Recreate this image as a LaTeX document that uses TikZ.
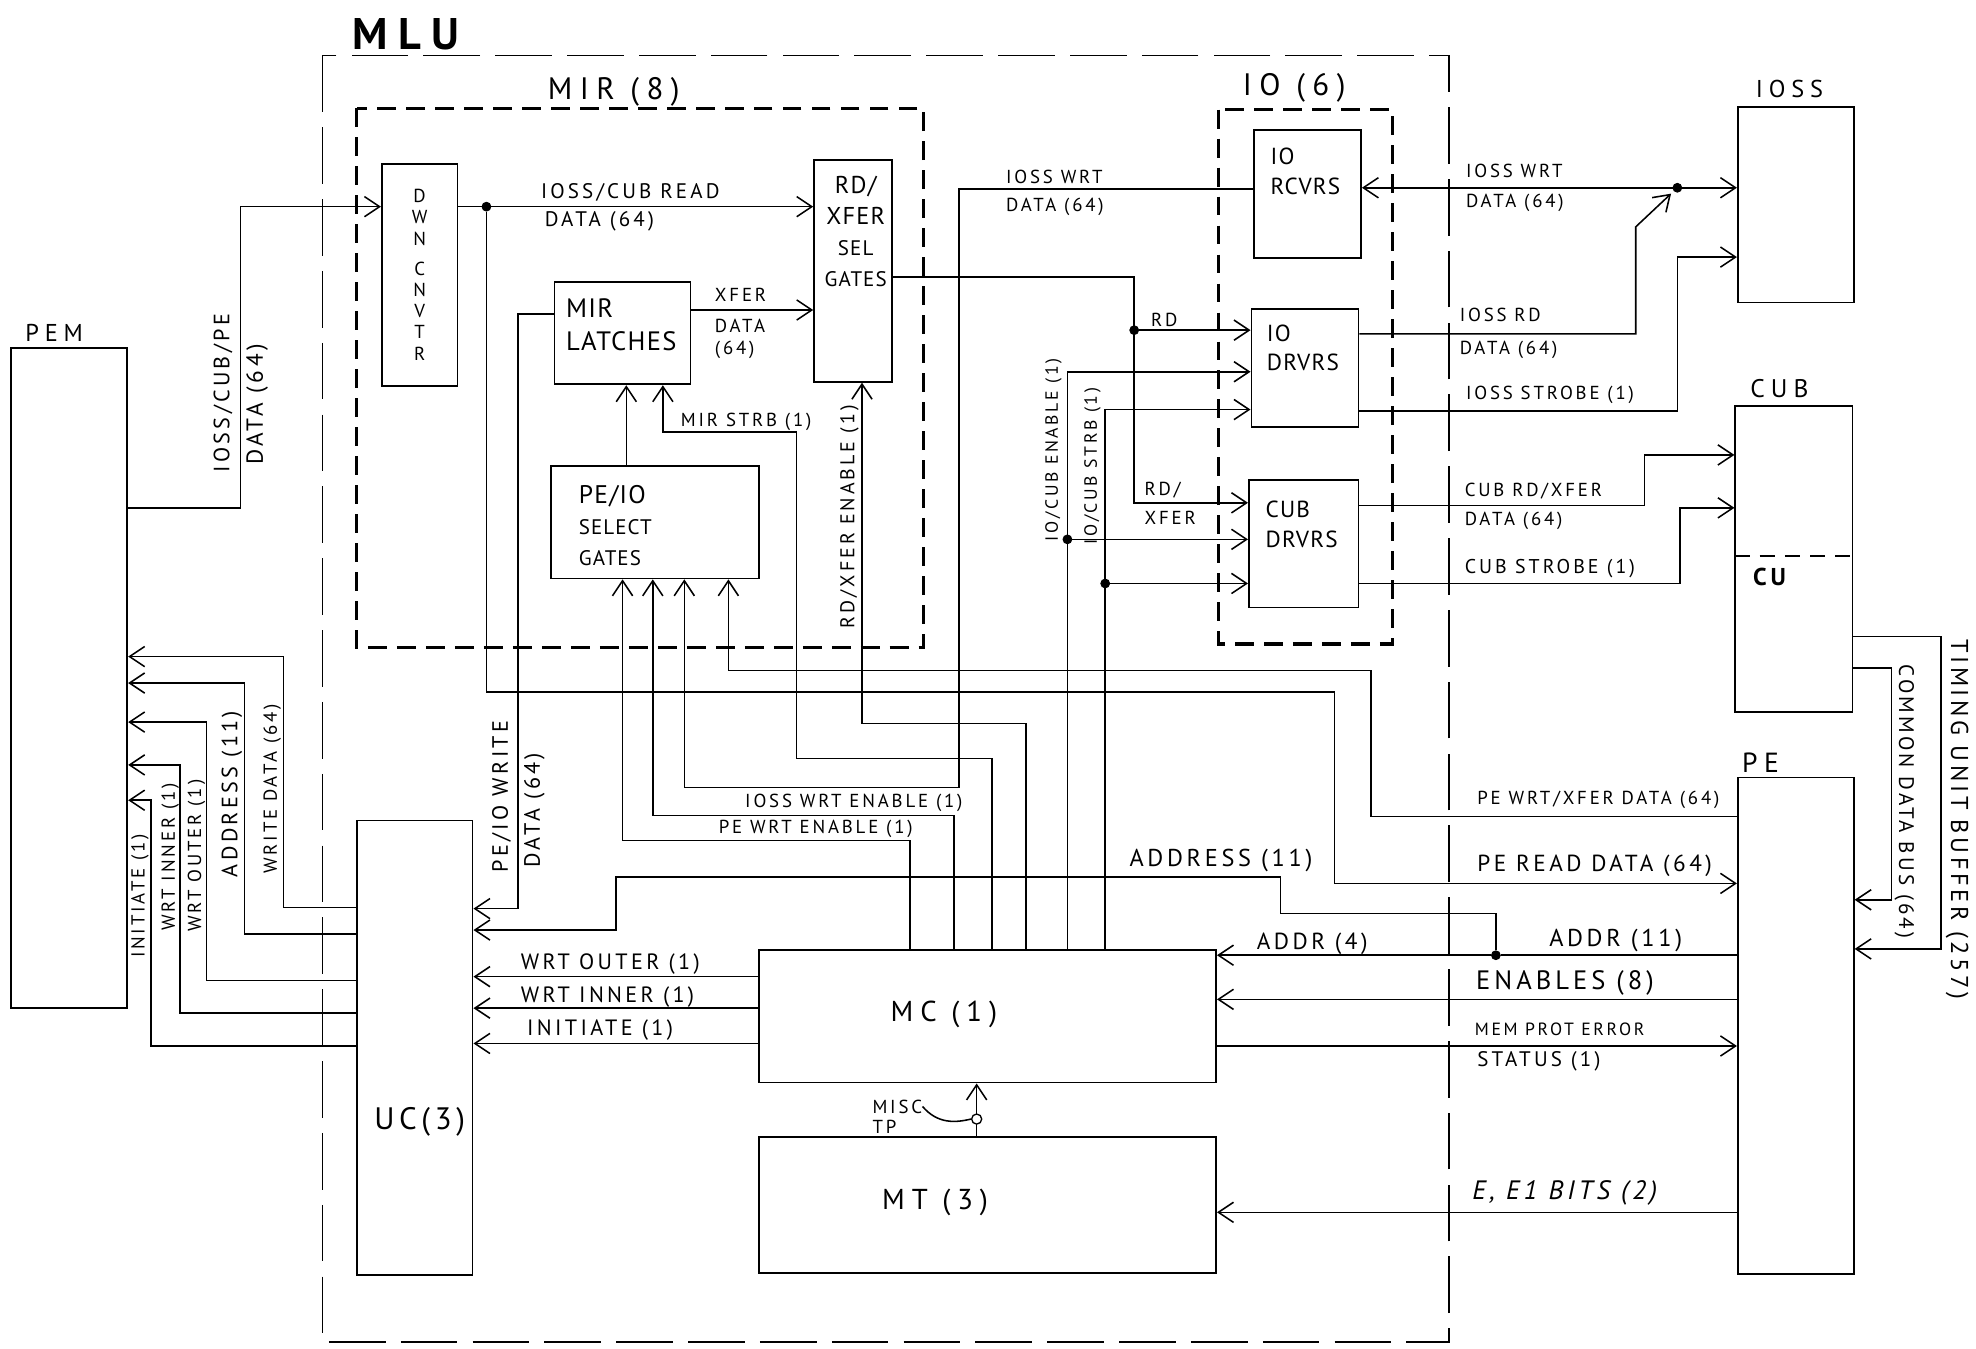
\documentclass[tikz,border=0pt]{standalone}
\usepackage{fontspec}
\setmainfont{PT Sans}
\newfontfamily\hand{PT Sans}[LetterSpace=15]
\newfontfamily\handw{PT Sans}[LetterSpace=24]
\newfontfamily\handn{PT Sans}[LetterSpace=5]
\usetikzlibrary{positioning,arrows.meta}

\begin{document}
\begin{tikzpicture}[
  x=0.2mm, y=-0.2mm,
  sz/.style={font=\hand\fontsize{#1}{#1}\selectfont},
  wsz/.style={font=\handw\fontsize{#1}{#1}\selectfont},
  wire/.style={line width=0.7pt},
  sig/.style={wire, -{Straight Barb[length=2.4mm,width=3.2mm]}},
  blk/.style={draw, line width=0.8pt, inner sep=0pt},
  grp/.style={draw, line width=1.5pt, dash pattern=on 3mm off 1.6mm},
  unit/.style={draw, line width=0.7pt, dash pattern=on 9mm off 2.4mm},
  junc/.style={circle, draw, fill, inner sep=0pt, minimum size=1.4mm},
  lbl/.style={inner sep=0pt, anchor=west},
  rlbl/.style={inner sep=0pt, rotate=90},
  dlbl/.style={inner sep=0pt, rotate=-90},
  btxt/.style={inner sep=0pt, align=left}
]
\useasboundingbox (0,0) rectangle (1568,1070);

% group outlines
\draw[unit] (256,44) rectangle (1150,1065);
\draw[grp] (283,86) rectangle (733,514);
\draw[grp] (967,87) rectangle (1105,511);
\node[wsz=20] (mlut) at (322,27) {\bfseries MLU};
\node[wsz=14] (mirt) at (487,73) {MIR (8)};
\node[wsz=14] (iot) at (1027,70) {IO (6)};

% blocks
\node[blk, minimum width=18.4mm, minimum height=104.8mm] (pem) at (55,538) {};
\node[blk, minimum width=12mm, minimum height=35.2mm, align=center,
  font=\fontsize{8.5}{9.6}\selectfont] (dwn) at (333,218) {D\\W\\N\\[4pt]C\\N\\V\\T\\R};
\node[blk, minimum width=12.4mm, minimum height=35.2mm] (sel) at (677,215) {};
\node[blk, minimum width=21.6mm, minimum height=16.2mm] (mirl) at (494,264.5) {};
\node[blk, minimum width=33mm, minimum height=17.8mm] (pesel) at (519.5,414.5) {};
\node[blk, minimum width=17mm, minimum height=20.4mm] (iorcv) at (1037.5,154) {};
\node[blk, minimum width=17mm, minimum height=18.8mm] (iodrv) at (1035.5,292) {};
\node[blk, minimum width=17.4mm, minimum height=20.2mm] (cubdrv) at (1034.5,431.5) {};
\node[blk, minimum width=18.4mm, minimum height=31mm] (ioss) at (1425,162.5) {};
\node[blk, minimum width=18.6mm, minimum height=48.6mm] (cub) at (1423.5,443.5) {};
\node[blk, minimum width=18.4mm, minimum height=78.8mm] (pe) at (1425,814) {};
\node[blk, minimum width=18.4mm, minimum height=72.2mm] (uc) at (329,831.5) {};
\node[blk, minimum width=72.6mm, minimum height=21mm] (mc) at (783.5,806.5) {};
\node[blk, minimum width=72.6mm, minimum height=21.6mm] (mt) at (783.5,956) {};

% block texts
\node[btxt, align=center, font=\handn\fontsize{11}{14}\selectfont] (selt) at (679,184)
  {RD/\\XFER\\{\fontsize{9.5}{14}\selectfont SEL}\\{\fontsize{9.5}{14}\selectfont GATES}};
\node[btxt, font=\handn\fontsize{12}{15}\selectfont] (mirlt) at (493,258) {MIR\\LATCHES};
\node[btxt, anchor=west, font=\handn\fontsize{11.5}{14}\selectfont] (peselt) at (459,417)
  {PE/IO\\{\fontsize{9.5}{13}\selectfont SELECT}\\{\fontsize{9.5}{13}\selectfont GATES}};
\node[btxt, anchor=west, font=\handn\fontsize{10.5}{13.5}\selectfont] (iorcvt) at (1008,136) {IO\\RCVRS};
\node[btxt, anchor=west, font=\handn\fontsize{10.5}{13.5}\selectfont] (iodrvt) at (1005,276) {IO\\DRVRS};
\node[btxt, anchor=west, font=\handn\fontsize{10.5}{13.5}\selectfont] (cubdrvt) at (1004,416) {CUB\\DRVRS};
\node[wsz=13] (mct) at (749,805) {MC (1)};
\node[wsz=13] (mtt) at (742,954) {MT (3)};
\node[sz=14] (uct) at (333,890) {UC(3)};
\node[wsz=11] (pemt) at (43,264) {PEM};
\node[wsz=11] (iosst) at (1420,71) {IOSS};
\node[wsz=11.5] (cubt) at (1412,308) {CUB};
\node[wsz=12.5] (pet) at (1397,605) {PE};
\node[sz=11, anchor=west] (cut) at (1385,458) {\bfseries CU};
\draw[wire, dash pattern=on 2.4mm off 1.6mm] (cub.west |- 0,441) -- (cub.east |- 0,441);

% junctions
\node[junc] (jrd) at (386,164) {};
\node[junc] (jsel) at (900,262) {};
\node[junc] (jen) at (847,428) {};
\node[junc] (jst) at (877,463) {};
\node[junc] (jio) at (1331,149) {};
\node[junc] (jad) at (1187,758) {};

% PEM and down converter
\draw[sig] (pem.east |- 0,403) -| (191,164) -- (dwn.west |- 0,164);
\node[rlbl, sz=10] (l01) at (177,312) {IOSS/CUB/PE};
\node[rlbl, sz=10.5] (l02) at (204,321) {DATA (64)};
\draw[sig] (dwn.east |- 0,164) -- (sel.west |- 0,164);
\node[lbl, sz=9.5] (l03) at (429,153) {IOSS/CUB READ};
\node[lbl, sz=9.5] (l04) at (432,176) {DATA (64)};
\draw[sig] (jrd) |- (1059,549) |- (pe.west |- 0,701);
\node[lbl, sz=10.5] (l05) at (1172,687) {PE READ DATA (64)};
\draw[sig] (pe.west |- 0,648) -| (1088,532) -| (pesel.south -| 578,0);
\node[lbl, sz=8.5] (l06) at (1172,635) {PE WRT/XFER DATA (64)};

% inside MIR
\draw[sig] (pesel.north -| 497,0) -- (mirl.south -| 497,0);
\draw[sig] (mirl.east |- 0,246) -- (sel.west |- 0,246);
\node[lbl, sz=8.5] (l07) at (567,234) {XFER};
\node[lbl, sz=8.5] (l08) at (567,259) {DATA};
\node[lbl, sz=8.5] (l09) at (567,278) {(64)};
\draw[sig] (mirl.west |- 0,249) -| (411,721) -- (uc.east |- 0,721);
\node[rlbl, sz=10] (l10) at (398,632) {PE/IO WRITE};
\node[rlbl, sz=10] (l11) at (424,643) {DATA (64)};

% UC to PEM
\draw[sig] (uc.west |- 0,720) -| (225,521) -- (pem.east |- 0,521);
\draw[sig] (uc.west |- 0,741) -| (194,542) -- (pem.east |- 0,542);
\draw[sig] (uc.west |- 0,778) -| (164,573) -- (pem.east |- 0,573);
\draw[sig] (uc.west |- 0,804) -| (143,607) -- (pem.east |- 0,607);
\draw[sig] (uc.west |- 0,830) -| (120,635) -- (pem.east |- 0,635);
\node[rlbl, sz=8.5] (l12) at (216,626) {WRITE DATA (64)};
\node[rlbl, sz=10] (l13) at (184,630) {ADDRESS (11)};
\node[rlbl, sz=8.5] (l14) at (156,679) {WRT OUTER (1)};
\node[rlbl, sz=8.5] (l15) at (135,680) {WRT INNER (1)};
\node[rlbl, sz=8.5] (l16) at (111,711) {INITIATE (1)};

% MC to UC
\draw[sig] (mc.west |- 0,775) -- (uc.east |- 0,775);
\draw[sig] (mc.west |- 0,800) -- (uc.east |- 0,800);
\draw[sig] (mc.west |- 0,828) -- (uc.east |- 0,828);
\node[lbl, sz=10] (l17) at (413,765) {WRT OUTER (1)};
\node[lbl, sz=10] (l18) at (413,791) {WRT INNER (1)};
\node[lbl, sz=10] (l19) at (418,817) {INITIATE (1)};

% address
\draw[sig] (pe.west |- 0,758) -- (jad) -- (mc.east |- 0,758);
\draw[sig] (jad) -- (1187,725) -| (1016,696) -| (489,738) -- (uc.east |- 0,738);
\node[lbl, sz=11] (l20) at (896,683) {ADDRESS (11)};
\node[lbl, sz=10.5] (l21) at (997,749) {ADDR (4)};
\node[lbl, sz=11] (l22) at (1229,746) {ADDR (11)};

% PE to MC and MT
\draw[sig] (pe.west |- 0,793) -- (mc.east |- 0,793);
\node[lbl, sz=12] (l23) at (1171,780) {ENABLES (8)};
\draw[sig] (mc.east |- 0,830) -- (pe.west |- 0,830);
\node[lbl, sz=8] (l24) at (1170,817) {MEM PROT ERROR};
\node[lbl, sz=9.5] (l25) at (1172,842) {STATUS (1)};
\draw[sig] (pe.west |- 0,962) -- (mt.east |- 0,962);
\node[lbl, sz=12] (l26) at (1168,947) {\itshape E, E1 BITS (2)};

% MT to MC
\draw[sig] (mt.north -| 775,0) -- (mc.south -| 775,0);
\node[circle, draw, fill=white, line width=0.6pt, inner sep=0pt, minimum size=1.6mm] (tp) at (775,888) {};
\node[lbl, sz=8.5] (misc) at (692,878) {MISC};
\node[lbl, sz=8.5] (tpl) at (692,894) {TP};
\draw[wire] (misc.east) .. controls (744,892) and (758,891) .. (tp.west);

% MC control lines
\draw[sig] (mc.north -| 722,0) |- (494,667) -- (pesel.south -| 494,0);
\node[lbl, sz=8.5] (l27) at (570,658) {PE WRT ENABLE (1)};
\draw[sig] (mc.north -| 757,0) |- (518,647) -- (pesel.south -| 518,0);
\node[lbl, sz=8.5] (l28) at (591,637) {IOSS WRT ENABLE (1)};
\draw[sig] (iorcv.west |- 0,150) -| (761,625) -| (pesel.south -| 543,0);
\node[lbl, sz=8.5] (l29) at (798,140) {IOSS WRT};
\node[lbl, sz=8.5] (l30) at (798,164) {DATA (64)};
\draw[sig] (mc.north -| 787,0) |- (632,602) |- (526,343) -- (mirl.south -| 526,0);
\node[lbl, sz=8.5] (l31) at (540,335) {MIR STRB (1)};
\draw[sig] (mc.north -| 814,0) |- (684,574) -- (sel.south -| 684,0);
\node[rlbl, sz=9] (l32) at (674,410) {RD/XFER ENABLE (1)};
\draw[wire] (mc.north -| 847,0) -- (jen);
\draw[sig] (jen) |- (iodrv.west |- 0,295);
\draw[sig] (jen) -- (cubdrv.west |- 0,428);
\node[rlbl, sz=8] (l33) at (836,357) {IO/CUB ENABLE (1)};
\draw[wire] (mc.north -| 877,0) -- (jst);
\draw[sig] (jst) |- (iodrv.west |- 0,325);
\draw[sig] (jst) -- (cubdrv.west |- 0,463);
\node[rlbl, sz=8] (l34) at (867,370) {IO/CUB STRB (1)};

% read select
\draw[sig] (sel.east |- 0,220) -| (900,399) -- (cubdrv.west |- 0,399);
\draw[sig] (jsel) -- (iodrv.west |- 0,262);
\node[lbl, sz=8.5] (l35) at (913,254) {RD};
\node[lbl, sz=8.5] (l36) at (908,389) {RD/};
\node[lbl, sz=8.5] (l37) at (908,411) {XFER};

% IOSS
\draw[sig] (jio) -- (iorcv.east |- 0,149);
\draw[sig] (jio) -- (ioss.west |- 0,149);
\draw[sig, shorten >=0.6mm] (iodrv.east |- 0,265) -| (1298,180) -- (jio);
\draw[sig] (iodrv.east |- 0,326) -| (1331,204) -- (ioss.west |- 0,204);
\node[lbl, sz=8.5] (l38) at (1163,136) {IOSS WRT};
\node[lbl, sz=8.5] (l39) at (1163,161) {DATA (64)};
\node[lbl, sz=8.5] (l40) at (1158,250) {IOSS RD};
\node[lbl, sz=8.5] (l41) at (1158,278) {DATA (64)};
\node[lbl, sz=8.5] (l42) at (1163,313) {IOSS STROBE (1)};

% CUB
\draw[sig] (cubdrv.east |- 0,401) -| (1305,361) -- (cub.west |- 0,361);
\draw[sig] (cubdrv.east |- 0,463) -| (1333,403) -- (cub.west |- 0,403);
\node[lbl, sz=8.5] (l43) at (1162,390) {CUB RD/XFER};
\node[lbl, sz=8.5] (l44) at (1162,413) {DATA (64)};
\node[lbl, sz=9] (l45) at (1162,451) {CUB STROBE (1)};

% CU to PE
\draw[sig] (cub.east |- 0,505) -| (1540,753) -- (pe.east |- 0,753);
\draw[sig] (cub.east |- 0,530) -| (1501,714) -- (pe.east |- 0,714);
\node[dlbl, sz=11] (l46) at (1553,650) {TIMING UNIT BUFFER (257)};
\node[dlbl, sz=9.5] (l47) at (1511,636) {COMMON DATA BUS (64)};
\end{tikzpicture}
\end{document}
